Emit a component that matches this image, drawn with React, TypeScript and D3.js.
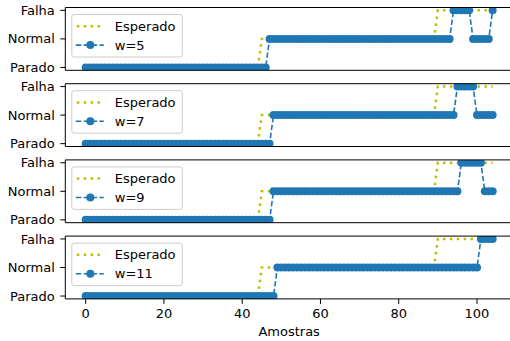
import React from "react";
import * as d3 from "d3";

// estados: 0 = Parado, 1 = Normal, 2 = Falha
const stateLabels = ["Parado", "Normal", "Falha"];
const xTicks = [0, 20, 40, 60, 80, 100];

const esperado = [
  0, 0, 0, 0, 0, 0, 0, 0, 0, 0, 0, 0, 0, 0, 0,
  0, 0, 0, 0, 0, 0, 0, 0, 0, 0, 0, 0, 0, 0, 0,
  0, 0, 0, 0, 0, 0, 0, 0, 0, 0, 0, 0, 0, 0, 0,
  1, 1, 1, 1, 1, 1, 1, 1, 1, 1, 1, 1, 1, 1, 1,
  1, 1, 1, 1, 1, 1, 1, 1, 1, 1, 1, 1, 1, 1, 1,
  1, 1, 1, 1, 1, 1, 1, 1, 1, 1, 1, 1, 1, 1, 1,
  2, 2, 2, 2, 2, 2, 2, 2, 2, 2, 2, 2, 2, 2, 2,
];

const w5 = [
  0, 0, 0, 0, 0, 0, 0, 0, 0, 0, 0, 0, 0, 0, 0,
  0, 0, 0, 0, 0, 0, 0, 0, 0, 0, 0, 0, 0, 0, 0,
  0, 0, 0, 0, 0, 0, 0, 0, 0, 0, 0, 0, 0, 0, 0,
  0, 0, 1, 1, 1, 1, 1, 1, 1, 1, 1, 1, 1, 1, 1,
  1, 1, 1, 1, 1, 1, 1, 1, 1, 1, 1, 1, 1, 1, 1,
  1, 1, 1, 1, 1, 1, 1, 1, 1, 1, 1, 1, 1, 1, 1,
  1, 1, 1, 1, 2, 2, 2, 2, 2, 1, 1, 1, 1, 1, 2,
];

const w7 = [
  0, 0, 0, 0, 0, 0, 0, 0, 0, 0, 0, 0, 0, 0, 0,
  0, 0, 0, 0, 0, 0, 0, 0, 0, 0, 0, 0, 0, 0, 0,
  0, 0, 0, 0, 0, 0, 0, 0, 0, 0, 0, 0, 0, 0, 0,
  0, 0, 0, 1, 1, 1, 1, 1, 1, 1, 1, 1, 1, 1, 1,
  1, 1, 1, 1, 1, 1, 1, 1, 1, 1, 1, 1, 1, 1, 1,
  1, 1, 1, 1, 1, 1, 1, 1, 1, 1, 1, 1, 1, 1, 1,
  1, 1, 1, 1, 1, 2, 2, 2, 2, 2, 1, 1, 1, 1, 1,
];

const w9 = [
  0, 0, 0, 0, 0, 0, 0, 0, 0, 0, 0, 0, 0, 0, 0,
  0, 0, 0, 0, 0, 0, 0, 0, 0, 0, 0, 0, 0, 0, 0,
  0, 0, 0, 0, 0, 0, 0, 0, 0, 0, 0, 0, 0, 0, 0,
  0, 0, 0, 1, 1, 1, 1, 1, 1, 1, 1, 1, 1, 1, 1,
  1, 1, 1, 1, 1, 1, 1, 1, 1, 1, 1, 1, 1, 1, 1,
  1, 1, 1, 1, 1, 1, 1, 1, 1, 1, 1, 1, 1, 1, 1,
  1, 1, 1, 1, 1, 1, 2, 2, 2, 2, 2, 2, 1, 1, 1,
];

const w11 = [
  0, 0, 0, 0, 0, 0, 0, 0, 0, 0, 0, 0, 0, 0, 0,
  0, 0, 0, 0, 0, 0, 0, 0, 0, 0, 0, 0, 0, 0, 0,
  0, 0, 0, 0, 0, 0, 0, 0, 0, 0, 0, 0, 0, 0, 0,
  0, 0, 0, 0, 1, 1, 1, 1, 1, 1, 1, 1, 1, 1, 1,
  1, 1, 1, 1, 1, 1, 1, 1, 1, 1, 1, 1, 1, 1, 1,
  1, 1, 1, 1, 1, 1, 1, 1, 1, 1, 1, 1, 1, 1, 1,
  1, 1, 1, 1, 1, 1, 1, 1, 1, 1, 1, 2, 2, 2, 2,
];

const panels = [
  { name: "w=5", values: w5 },
  { name: "w=7", values: w7 },
  { name: "w=9", values: w9 },
  { name: "w=11", values: w11 },
];

const W = 510;
const H = 341;
const left = 65.3;
const right = 513;
const top0 = 7.5;
const panelH = 62.8;
const step = 76.2;
const blue = "#1f77b4";
const olive = "#bfbf00";
const font = "DejaVu Sans, sans-serif";

const x = d3.scaleLinear().domain([-5.2, 109.2]).range([left, right]);

function Panel({ idx, name, values }: { idx: number; name: string; values: number[] }) {
  const top = top0 + idx * step;
  const bottom = top + panelH;
  const y = d3.scaleLinear().domain([-0.1, 2.1]).range([bottom, top]);
  const line = d3
    .line<number>()
    .x((_, i) => x(i))
    .y((d) => y(d));
  const clipId = `clip-${idx}`;
  const isLast = idx === panels.length - 1;
  const lx = left + 6.5;
  const ly = top + 7;
  const row1 = top + 18.7;
  const row2 = top + 37.6;

  return (
    <g>
      <defs>
        <clipPath id={clipId}>
          <rect x={left} y={top} width={right - left} height={panelH} />
        </clipPath>
      </defs>
      <g clipPath={`url(#${clipId})`}>
        <path
          d={line(esperado) || ""}
          fill="none"
          stroke={olive}
          strokeWidth={2.5}
          strokeDasharray="2.5 4.4"
        />
        <path
          d={line(values) || ""}
          fill="none"
          stroke={blue}
          strokeWidth={1.6}
          strokeDasharray="5.5 2.4"
        />
        {values.map((v, i) => (
          <circle key={i} cx={x(i)} cy={y(v)} r={4} fill={blue} />
        ))}
      </g>
      {/* eixos */}
      <line x1={left} x2={right} y1={top} y2={top} stroke="#000" strokeWidth={1} />
      <line x1={left} x2={right} y1={bottom} y2={bottom} stroke="#000" strokeWidth={1} />
      <line x1={left} x2={left} y1={top} y2={bottom} stroke="#000" strokeWidth={1} />
      {stateLabels.map((lab, i) => (
        <g key={lab}>
          <line x1={left - 5} x2={left} y1={y(i)} y2={y(i)} stroke="#000" strokeWidth={1} />
          <text
            x={left - 10.5}
            y={y(i)}
            dy="0.35em"
            textAnchor="end"
            fontSize={13}
            fontFamily={font}
            fill="#000"
          >
            {lab}
          </text>
        </g>
      ))}
      {isLast &&
        xTicks.map((t) => (
          <g key={t}>
            <line x1={x(t)} x2={x(t)} y1={bottom} y2={bottom + 5} stroke="#000" strokeWidth={1} />
            <text
              x={x(t)}
              y={bottom + 19.5}
              textAnchor="middle"
              fontSize={13}
              fontFamily={font}
              fill="#000"
            >
              {t}
            </text>
          </g>
        ))}
      {/* legenda */}
      <rect
        x={lx}
        y={ly}
        width={110.5}
        height={42.5}
        rx={2.5}
        fill="#fff"
        fillOpacity={0.8}
        stroke="#cccccc"
        strokeWidth={1}
      />
      <line
        x1={lx + 5}
        x2={lx + 31}
        y1={row1}
        y2={row1}
        stroke={olive}
        strokeWidth={2.5}
        strokeDasharray="2.5 4.4"
      />
      <text x={lx + 43} y={row1} dy="0.35em" fontSize={13} fontFamily={font} fill="#000">
        Esperado
      </text>
      <line
        x1={lx + 4}
        x2={lx + 32}
        y1={row2}
        y2={row2}
        stroke={blue}
        strokeWidth={1.6}
        strokeDasharray="5.5 2.4"
      />
      <circle cx={lx + 18.5} cy={row2} r={4} fill={blue} />
      <text x={lx + 43} y={row2} dy="0.35em" fontSize={13} fontFamily={font} fill="#000">
        {name}
      </text>
    </g>
  );
}

export default function App() {
  const lastBottom = top0 + (panels.length - 1) * step + panelH;
  return (
    <svg
      width={W}
      height={H}
      style={{ position: "absolute", left: 0, top: 0, background: "#fff" }}
    >
      {panels.map((p, i) => (
        <Panel key={p.name} idx={i} name={p.name} values={p.values} />
      ))}
      <text
        x={(left + right) / 2}
        y={lastBottom + 37}
        textAnchor="middle"
        fontSize={13}
        fontFamily={font}
        fill="#000"
      >
        Amostras
      </text>
    </svg>
  );
}
